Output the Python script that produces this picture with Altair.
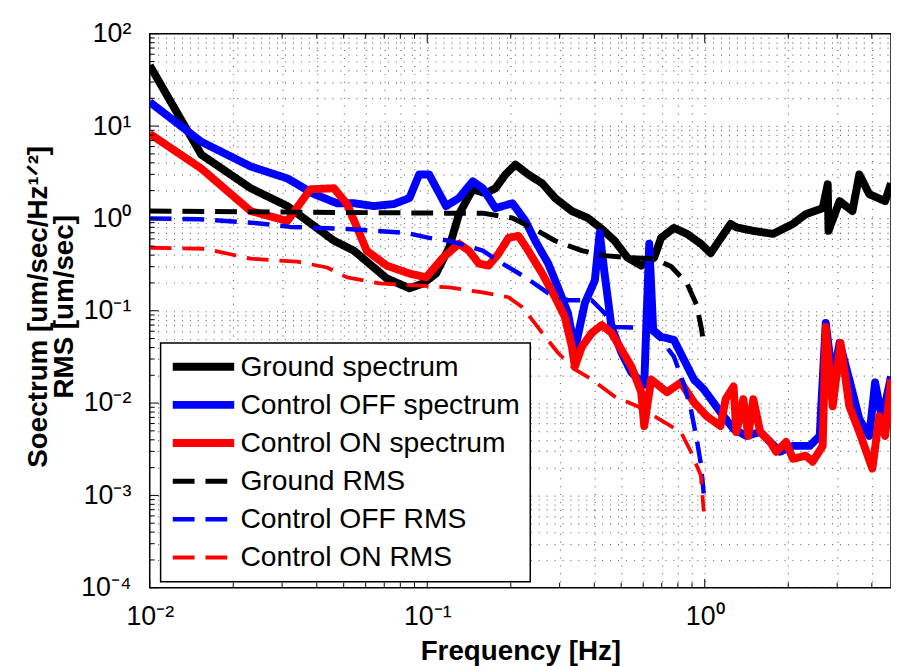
import altair as alt
import pandas as pd

# ---------------- data ----------------
ground_f = [0.0100, 0.01534, 0.02312, 0.03133, 0.04613, 0.05445, 0.07145, 0.0863, 0.09683, 0.1076,
            0.1199, 0.1301, 0.1459, 0.1625, 0.1762, 0.1914, 0.2079, 0.2312, 0.2596, 0.2889,
            0.3321, 0.3793, 0.4256, 0.4733, 0.5265, 0.5904, 0.6572, 0.6962, 0.7745, 0.863,
            0.9683, 1.05, 1.239, 1.30, 1.496, 1.763, 2.078, 2.311, 2.661, 2.774,
            2.793, 3.062, 3.406, 3.606, 3.917, 4.467, 4.69]
ground_v = [45.4, 4.91, 2.12, 1.36, 0.573, 0.447, 0.224, 0.175, 0.198, 0.253,
            0.481, 1.11, 2.07, 1.87, 2.12, 2.99, 3.83, 2.99, 2.40, 1.66,
            1.20, 1.01, 0.769, 0.573, 0.376, 0.308, 0.376, 0.616, 0.789, 0.680,
            0.531, 0.42, 0.871, 0.80, 0.733, 0.680, 0.871, 1.11, 1.29, 2.34,
            0.733, 1.54, 1.20, 2.99, 1.83, 1.54, 2.40]

off_f = [0.01, 0.01534, 0.02312, 0.03133, 0.03917, 0.04732, 0.05445, 0.06412, 0.07568, 0.0863,
         0.09354, 0.1016, 0.1169, 0.1301, 0.1459, 0.1585, 0.1762, 0.2028, 0.2259, 0.2449,
         0.2729, 0.2958, 0.3214, 0.3404, 0.3698, 0.4018, 0.4182, 0.4355, 0.4613, 0.5012,
         0.5445, 0.6053, 0.631, 0.6518, 0.6962, 0.7745, 0.8414, 0.9141, 0.9918, 1.14,
         1.27, 1.413, 1.585, 1.868, 2.078, 2.391, 2.596, 2.729, 2.891, 3.062,
         3.319, 3.606, 3.917, 4.111, 4.355, 4.69]
off_v = [18.2, 6.76, 3.65, 2.71, 1.83, 1.46, 1.46, 1.36, 1.43, 1.66,
         2.99, 2.99, 1.36, 1.66, 2.52, 2.12, 1.29, 1.46, 0.938, 0.573,
         0.324, 0.179, 0.0942, 0.0378, 0.121, 0.213, 0.697, 0.253, 0.0667, 0.0351,
         0.0214, 0.0159, 0.531, 0.0619, 0.0521, 0.0484, 0.0295, 0.018, 0.0141, 0.00796,
         0.00524, 0.00441, 0.00486, 0.00297, 0.00344, 0.00344, 0.00441, 0.0736, 0.018, 0.0449,
         0.018, 0.0067, 0.00441, 0.0167, 0.0067, 0.0194]

on_f = [0.01, 0.01534, 0.02312, 0.03133, 0.03793, 0.04613, 0.0514, 0.06053, 0.07145, 0.0863,
        0.0991, 0.114, 0.1301, 0.1413, 0.1535, 0.1665, 0.1807, 0.1963, 0.2132, 0.2312,
        0.2596, 0.2889, 0.3133, 0.3321, 0.3404, 0.3606, 0.3917, 0.4256, 0.4613, 0.5012,
        0.5445, 0.5904, 0.6053, 0.6412, 0.7311, 0.8204, 0.9141, 1.016, 1.14, 1.189,
        1.27, 1.30, 1.377, 1.436, 1.496, 1.585, 1.721, 1.808, 1.963, 2.078,
        2.311, 2.449, 2.661, 2.729, 2.891, 3.085, 3.319, 3.606, 4.018, 4.256,
        4.467, 4.69]
on_v = [8.25, 3.47, 1.20, 0.938, 2.07, 2.12, 1.43, 0.447, 0.308, 0.253,
        0.230, 0.376, 0.531, 0.447, 0.324, 0.308, 0.415, 0.616, 0.647, 0.447,
        0.253, 0.140, 0.0853, 0.0407, 0.0248, 0.0407, 0.0575, 0.0700, 0.0575, 0.0378,
        0.0248, 0.0131, 0.00564, 0.0180, 0.0131, 0.0167, 0.0102, 0.00722, 0.00564, 0.0110,
        0.0151, 0.00486, 0.0110, 0.00441, 0.0110, 0.00486, 0.00379, 0.00297, 0.00379, 0.00249,
        0.00269, 0.00232, 0.00344, 0.0667, 0.00925, 0.0449, 0.00925, 0.00486, 0.00195, 0.00722,
        0.00441, 0.0180]

ground_rms_f = [0.01, 0.0321, 0.1169, 0.1585, 0.2028, 0.2393, 0.2889, 0.3606, 0.4355, 0.5265,
                0.6572, 0.7568, 0.863, 0.9354, 0.975, 0.9918]
ground_rms_v = [1.2, 1.17, 1.14, 1.14, 1.01, 0.789, 0.573, 0.447, 0.395, 0.376,
                0.366, 0.301, 0.198, 0.115, 0.0619, 0.0428]

off_rms_f = [0.01, 0.015, 0.0239, 0.0321, 0.0514, 0.0841, 0.1016, 0.1199, 0.1585, 0.1866,
             0.2259, 0.2729, 0.3214, 0.3917, 0.4355, 0.4733, 0.6209, 0.6962, 0.7745, 0.8414,
             0.8913, 0.9354, 0.9683, 0.9918]
off_rms_v = [1.0, 0.98, 0.893, 0.809, 0.769, 0.697, 0.616, 0.573, 0.447, 0.324,
             0.230, 0.155, 0.130, 0.130, 0.0942, 0.0667, 0.0650, 0.0484, 0.0318, 0.0159,
             0.00857, 0.00409, 0.00220, 0.00105]

on_rms_f = [0.01, 0.01585, 0.02312, 0.03404, 0.04355, 0.0514, 0.06745, 0.1199, 0.1585, 0.1963,
            0.2203, 0.2596, 0.2958, 0.3404, 0.3917, 0.4733, 0.5715, 0.6855, 0.8204, 0.8913,
            0.9683, 0.9918]
on_rms_v = [0.481, 0.469, 0.366, 0.340, 0.294, 0.230, 0.198, 0.179, 0.158, 0.140,
            0.109, 0.0575, 0.0351, 0.0231, 0.0180, 0.0118, 0.00925, 0.00670, 0.00486, 0.00297,
            0.00164, 0.000673]

series_names = ["Ground spectrum", "Control OFF spectrum", "Control ON spectrum",
                "Ground RMS", "Control OFF RMS", "Control ON RMS"]
series_f = [ground_f, off_f, on_f, ground_rms_f, off_rms_f, on_rms_f]
series_v = [ground_v, off_v, on_v, ground_rms_v, off_rms_v, on_rms_v]

# axis tick positions and labels
x_ticks = [0.01, 0.02, 0.03, 0.04, 0.05, 0.06, 0.07, 0.08, 0.09,
           0.1, 0.2, 0.3, 0.4, 0.5, 0.6, 0.7, 0.8, 0.9, 1, 2, 3, 4]
x_major = [0.01, 0.1, 1]
y_ticks = [float(f"{m}e{e}") for e in range(-4, 2) for m in range(1, 10)] + [100.0]
y_major = [0.0001, 0.001, 0.01, 0.1, 1, 10, 100]
sup_labels = {-4: "10⁻⁴", -3: "10⁻³", -2: "10⁻²", -1: "10⁻¹", 0: "10⁰", 1: "10¹", 2: "10²"}

# ---------------- styles ----------------
colors = ["#000000", "#0000ff", "#ff0000", "#000000", "#0000ff", "#ff0000"]
widths = [8, 8, 8, 5, 4.5, 3.8]
dashes = [[1, 0], [1, 0], [1, 0], [22, 11], [22, 11], [22, 11]]
W, H = 748, 559
FONT = "Liberation Sans"

ex = "round(log(datum.value)/LN10)"
label_expr = "''"
for k, s in sup_labels.items():
    label_expr = f"({ex}=={k}) ? '{s}' : ({label_expr})"
label_expr = f"abs(log(datum.value)/LN10 - {ex}) < 1e-6 ? ({label_expr}) : ''"

xs = alt.Scale(type="log", domain=[0.01, 4.69], nice=False)
ys = alt.Scale(type="log", domain=[1e-4, 1e2], nice=False)

grid_style = dict(grid=True, gridDash=[1, 7], gridColor="#6a6a6a", gridWidth=1.2)

x_axis = alt.Axis(values=x_ticks, labelExpr=label_expr, ticks=False, domain=False,
                  labelFont=FONT, labelFontSize=27, labelColor="black", labelPadding=16,
                  labelFlush=False, labelOverlap=False,
                  title="Frequency [Hz]", titleFont=FONT, titleFontSize=28,
                  titleFontWeight="bold", titleColor="black", titleX=W / 2, titleY=72,
                  titleBaseline="alphabetic", titleAlign="center", **grid_style)
y_axis = alt.Axis(values=y_ticks, labelExpr=label_expr, ticks=False, domain=False,
                  labelFont=FONT, labelFontSize=27, labelColor="black", labelPadding=19,
                  labelFlush=False, labelOverlap=False,
                  title=["Soectrum [um/sec/Hz¹ᐟ²]", "RMS [um/sec]"], titleFont=FONT,
                  titleFontSize=28, titleFontWeight="bold", titleColor="black",
                  titleX=-104, titleY=275, titleAngle=-90, titleBaseline="alphabetic",
                  titleAlign="center", titleLineHeight=26, **grid_style)

leg = alt.Legend(title=None, orient="none", legendX=11, legendY=312,
                 symbolType="M-1.2,0H5", symbolSize=400, labelOffset=42,
                 labelFont=FONT, labelFontSize=28.5, labelColor="black", labelLimit=500,
                 clipHeight=28, padding=10, rowPadding=9.5,
                 fillColor="white", strokeColor="black")

color_enc = alt.Color("series:N", scale=alt.Scale(type="ordinal", domain=series_names, range=colors),
                      legend=leg)
width_enc = alt.StrokeWidth("series:N",
                            scale=alt.Scale(type="ordinal", domain=series_names, range=widths),
                            legend=leg)
dash_enc = alt.StrokeDash("series:N",
                          scale=alt.Scale(type="ordinal", domain=series_names, range=dashes),
                          legend=leg)

X = alt.X("f:Q", scale=xs, axis=x_axis)
Y = alt.Y("v:Q", scale=ys, axis=y_axis)

layers = []
for i, name in enumerate(series_names):
    df = pd.DataFrame({"f": series_f[i], "v": series_v[i], "series": name,
                       "i": list(range(len(series_f[i])))})
    layers.append(
        alt.Chart(df).mark_line(clip=True, strokeJoin="round").encode(
            x=X, y=Y,
            color=color_enc, strokeWidth=width_enc, strokeDash=dash_enc,
            order=alt.Order("i:Q"),
        )
    )

# inside tick marks (MATLAB style)
x_minor = [t for t in x_ticks if t not in x_major]
y_minor = [t for t in y_ticks if t not in y_major]
tick_layers = []
for vals, ln in [(x_major, 9), (x_minor, 5)]:
    d = pd.DataFrame({"f": vals})
    tick_layers.append(alt.Chart(d).mark_rule(color="black", strokeWidth=1).encode(
        x=X, y=alt.value(H), y2=alt.value(H - ln)))
    tick_layers.append(alt.Chart(d).mark_rule(color="black", strokeWidth=1).encode(
        x=X, y=alt.value(0), y2=alt.value(ln)))
for vals, ln in [(y_major, 9), (y_minor, 5)]:
    d = pd.DataFrame({"v": vals})
    tick_layers.append(alt.Chart(d).mark_rule(color="black", strokeWidth=1).encode(
        y=Y, x=alt.value(0), x2=alt.value(ln)))

chart = alt.layer(*layers, *tick_layers).properties(
    width=W, height=H, autosize="none",
    padding={"left": 143, "top": 23, "right": 0, "bottom": 76},
    background="white",
).configure_view(stroke="black", strokeWidth=1.5).configure_legend(strokeWidth=1.5)

chart.save("out.html", embed_options={"renderer": "svg", "actions": False})
